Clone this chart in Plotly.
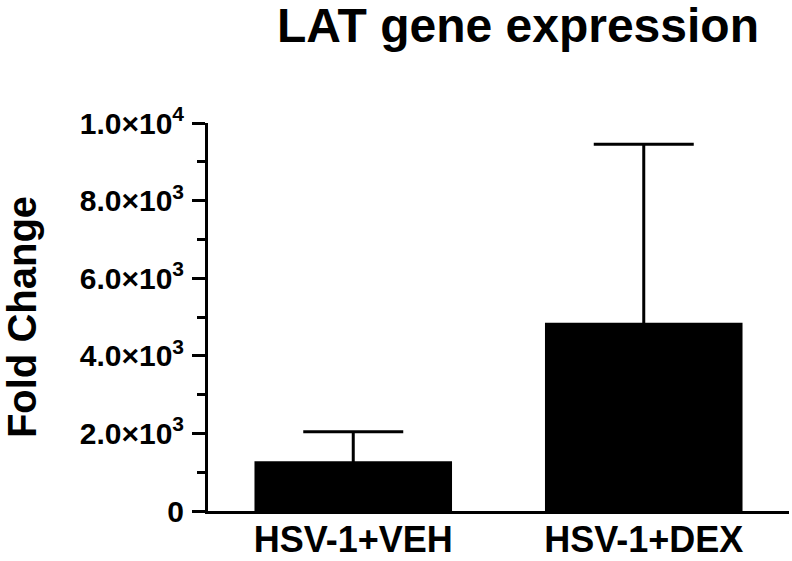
import plotly.graph_objects as go

categories = ["HSV-1+VEH", "HSV-1+DEX"]
means = [1280, 4850]
errors = [760, 4600]

tick_vals = [0, 2000, 4000, 6000, 8000, 10000]
tick_text = ["0", "2.0×10<sup>3</sup>", "4.0×10<sup>3</sup>", "6.0×10<sup>3</sup>",
             "8.0×10<sup>3</sup>", "1.0×10<sup>4</sup>"]

FONT = "Liberation Sans, Arial, Helvetica, sans-serif"

fig = go.Figure()
fig.add_trace(go.Bar(
    x=categories, y=means, width=0.68,
    marker=dict(color="black", line=dict(width=0)),
    error_y=dict(type="data", array=errors, symmetric=True,
                 color="black", thickness=3, width=50),
))

fig.update_layout(
    width=792, height=561,
    margin=dict(l=208, r=3, t=123, b=50, autoexpand=False),
    plot_bgcolor="white", paper_bgcolor="white",
    showlegend=False,
    title=dict(text="LAT gene expression", x=518/792, xanchor="center", xref="container",
               y=1 - 25/561, yanchor="middle", yref="container",
               font=dict(family=FONT, size=48, color="black", weight="bold")),
    font=dict(family=FONT, color="black"),
)

fig.update_xaxes(
    range=[-0.5, 1.5], showline=True, linecolor="black", linewidth=3,
    ticks="", showgrid=False, zeroline=False, automargin=False,
    ticklabelstandoff=-5,
    tickfont=dict(family=FONT, size=36, color="black", weight="bold"),
)
fig.update_yaxes(
    range=[0, 10000], showline=True, linecolor="black", linewidth=3,
    showgrid=False, zeroline=False, automargin=False,
    tickmode="array", tickvals=tick_vals, ticktext=tick_text,
    ticks="outside", ticklen=13, tickwidth=3, tickcolor="black",
    ticklabelstandoff=2,
    tickfont=dict(family=FONT, size=30, color="black", weight="bold"),
    minor=dict(dtick=1000, tick0=0, ticks="outside", ticklen=8, tickwidth=3, tickcolor="black", showgrid=False),
    title=dict(text="Fold Change", standoff=38,
               font=dict(family=FONT, size=40, color="black", weight="bold")),
)

fig.write_html("out.html",
               config={"displayModeBar": False},
               post_script="document.body.style.margin='0';document.body.style.overflow='hidden';")
